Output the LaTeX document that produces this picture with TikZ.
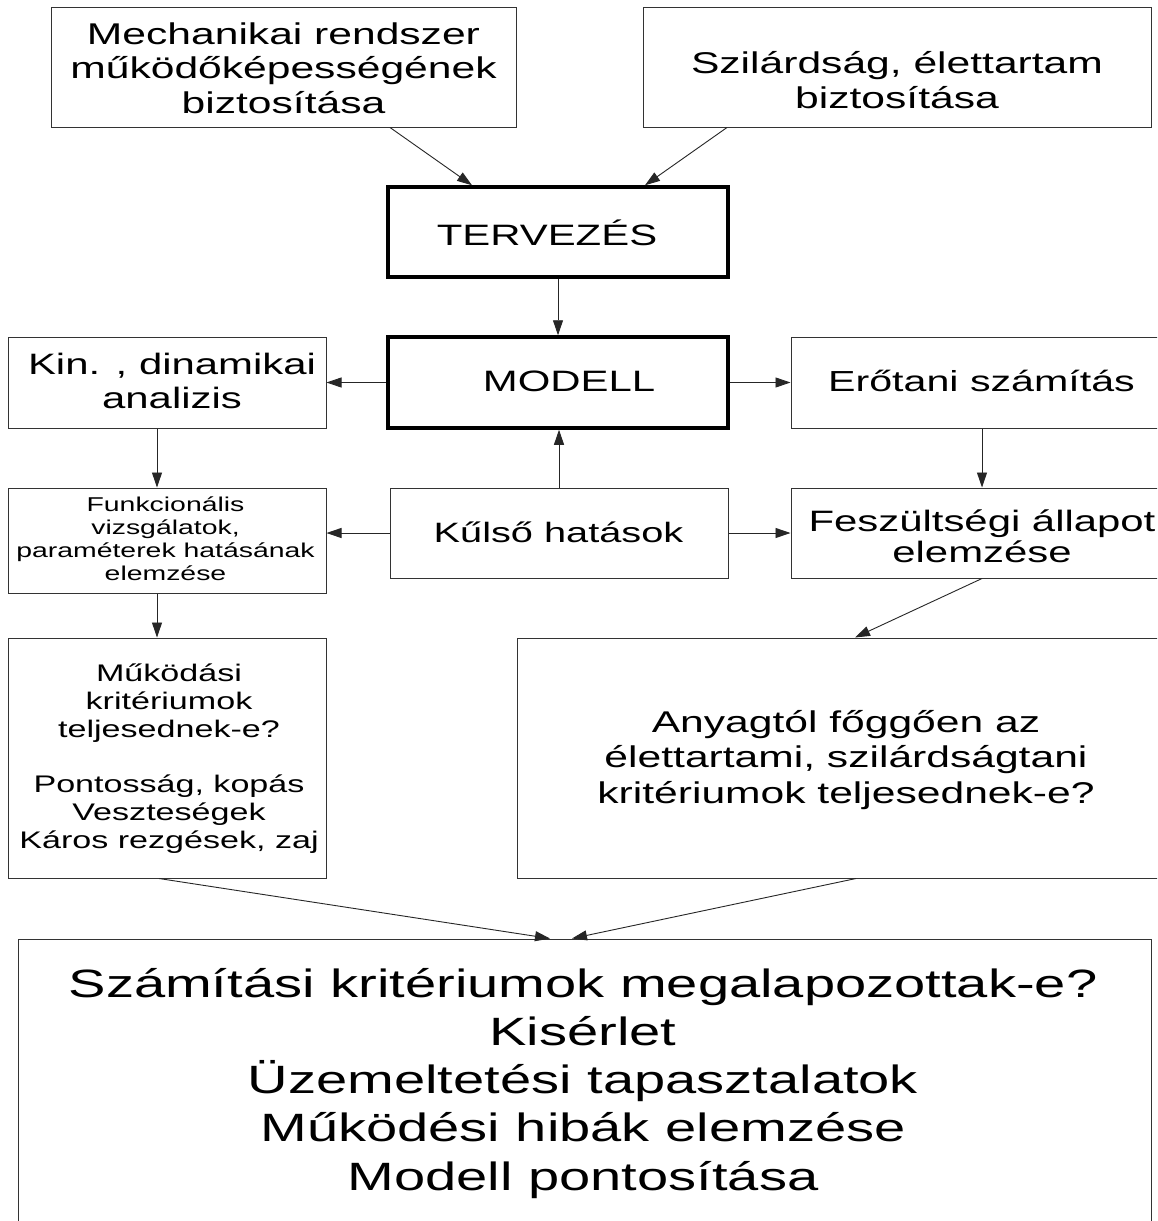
\documentclass[tikz,border=0pt]{standalone}
\usepackage{fontspec}
\setmainfont{Liberation Sans}[FakeStretch=1.42]
\usetikzlibrary{arrows.meta}
\newcommand\myfs[2]{\fontsize{#1pt}{#2pt}\selectfont}
\begin{document}
\begin{tikzpicture}[x=1pt,y=-1pt,
  box/.style={draw=black!80, line width=1pt, rectangle, inner sep=0pt},
  thickbox/.style={draw=black, line width=3.5pt, rectangle, inner sep=0pt},
  lbl/.style={align=center, inner sep=0pt, text=black},
  arr/.style={draw=black!85, line width=0.9pt, -{Triangle[length=15pt,width=10pt]}}]
\fill[white] (0,0) rectangle (1157,1221);
\clip (0,0) rectangle (1157,1221);
\useasboundingbox (0,0) rectangle (1157,1221);

% boxes
\node[box, minimum width=465pt, minimum height=120pt] (mech) at (283.5,67) {};
\node[box, minimum width=508pt, minimum height=120pt] (szil) at (897,67) {};
\node[thickbox, minimum width=340pt, minimum height=90pt] (terv) at (558,232) {};
\node[thickbox, minimum width=340pt, minimum height=91pt] (modell) at (558,382.5) {};
\node[box, minimum width=318pt, minimum height=91pt] (kin) at (167,382.5) {};
\node[box, minimum width=382pt, minimum height=91pt] (ero) at (982,382.5) {};
\node[box, minimum width=318pt, minimum height=105pt] (funkc) at (167,540.5) {};
\node[box, minimum width=338pt, minimum height=90pt] (kulso) at (559,533) {};
\node[box, minimum width=382pt, minimum height=90pt] (fesz) at (982,533) {};
\node[box, minimum width=318pt, minimum height=240pt] (mukod) at (167,758) {};
\node[box, minimum width=658pt, minimum height=240pt] (anyag) at (846,758) {};
\node[box, minimum width=1133pt, minimum height=320pt] (kriter) at (584.5,1099) {};

% texts
\node[lbl, font=\myfs{30}{34.5}] (mechT) at (283.5,72)
  {\strut Mechanikai rendszer\\\strut működőképességének\\\strut biztosítása};
\node[lbl, font=\myfs{30}{35}] (szilT) at (897,83.5)
  {\strut Szilárdság, élettartam\\\strut biztosítása};
\node[lbl, font=\myfs{29.5}{34}] (tervT) at (547,238) {\strut TERVEZÉS};
\node[lbl, font=\myfs{29.5}{34}] (modellT) at (569,385) {\strut MODELL};
\node[lbl, font=\myfs{29.5}{34}] (kinT) at (172,385)
  {\strut Kin. , dinamikai\\\strut analizis};
\node[lbl, font=\myfs{29}{34}] (eroT) at (981.5,385) {\strut Erőtani számítás};
\node[lbl, font=\myfs{20}{23.3}] (funkcT) at (165.5,541.3)
  {\strut Funkcionális\\\strut vizsgálatok,\\\strut paraméterek hatásának\\\strut elemzése};
\node[lbl, font=\myfs{28}{33}] (kulsoT) at (558.5,536) {\strut Kűlső hatások};
\node[lbl, font=\myfs{29.5}{28}] (feszT) at (982,540)
  {\strut Feszültségi állapot\\\strut elemzése};
\node[lbl, font=\myfs{24}{27.7}] (mukodT) at (169,759.5)
  {\strut Működási\\\strut kritériumok\\\strut teljesednek-e?\\\strut\\\strut Pontosság, kopás\\\strut Veszteségek\\\strut Káros rezgések, zaj};
\node[lbl, font=\myfs{30}{35.5}] (anyagT) at (846,760.4)
  {\strut Anyagtól főggően az\\\strut élettartami, szilárdságtani\\\strut kritériumok teljesednek-e?};
\node[lbl, font=\myfs{39.5}{48.25}] (kriterT) at (583,1084)
  {\strut Számítási kritériumok megalapozottak-e?\\\strut Kisérlet\\\strut Üzemeltetési tapasztalatok\\\strut Működési hibák elemzése\\\strut Modell pontosítása};

% connectors
\draw[arr] ([xshift=106.5pt]mech.south) -- ([xshift=-86pt]terv.north);
\draw[arr] ([xshift=-170pt]szil.south) -- ([xshift=87pt]terv.north);
\draw[arr] (terv.south) -- (modell.north);
\draw[arr] (modell.west) -- (kin.east);
\draw[arr] (modell.east) -- (ero.west);
\draw[arr] (kulso.north) -- (kulso.north |- modell.south);
\draw[arr] ([xshift=-10pt]kin.south) -- ([xshift=-10pt]funkc.north);
\draw[arr] (kulso.west) -- (kulso.west -| funkc.east);
\draw[arr] (kulso.east) -- (kulso.east -| fesz.west);
\draw[arr] (ero.south) -- (fesz.north);
\draw[arr] ([xshift=-10pt]funkc.south) -- ([xshift=-10pt]mukod.north);
\draw[arr] (fesz.south) -- ([xshift=9pt]anyag.north);
\draw[arr] ([xshift=-8pt]mukod.south) -- ([xshift=-34.5pt]kriter.north);
\draw[arr] ([xshift=10pt]anyag.south) -- ([xshift=-12.5pt]kriter.north);
\end{tikzpicture}
\end{document}
